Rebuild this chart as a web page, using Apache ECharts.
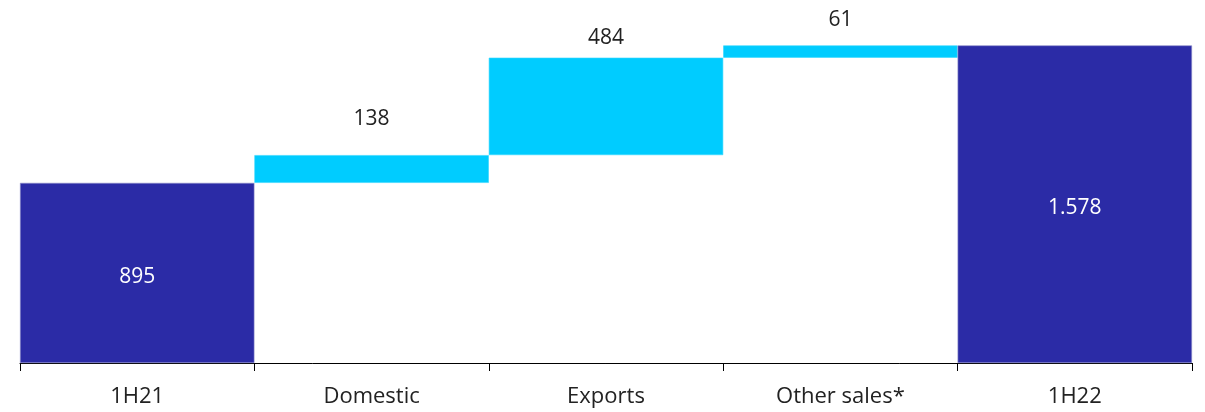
<!DOCTYPE html>
<html>
<head>
<meta charset="utf-8">
<script src="https://cdn.jsdelivr.net/npm/echarts@6/dist/echarts.min.js"></script>
<style>html,body{margin:0;padding:0;background:#fff}#c{width:1205px;height:412px}</style>
</head>
<body>
<div id="c"></div>
<script>
const categories = ["1H21", "Domestic", "Exports", "Other sales*", "1H22"];
const values = [895, 138, 484, 61, 1578];
const isTotal = [true, false, false, false, true];

const DARK = '#2B2BA6', CYAN = '#00CCFF';
const FONT = '"Open Sans", sans-serif';

// waterfall base computed from values
const base = [];
let run = 0;
values.forEach((v, i) => {
  if (isTotal[i]) { base.push(0); run = v; }
  else { base.push(run); run += v; }
});
const labelDist = [0, 26, 9, 15, 0];

function fmt(v) {
  return String(v).replace(/\B(?=(\d{3})+(?!\d))/g, '.');
}

const chart = echarts.init(document.getElementById('c'));
chart.setOption({
  animation: false,
  grid: { left: 20, right: 13, top: 41, bottom: 49 },
  xAxis: {
    type: 'category',
    data: categories,
    boundaryGap: true,
    axisLine: { lineStyle: { color: '#000', width: 1 } },
    axisTick: { show: true, length: 8, lineStyle: { color: '#000' } },
    axisLabel: { color: '#222', fontFamily: FONT, fontSize: 22, margin: 23 }
  },
  yAxis: { type: 'value', min: 0, max: 1600, show: false, splitLine: { show: false } },
  series: [
    {
      type: 'bar', stack: 'w', barWidth: '100%',
      itemStyle: { color: 'transparent' },
      data: base, silent: true
    },
    {
      type: 'bar', stack: 'w', barWidth: '100%',
      data: values.map((v, i) => ({
        value: v,
        itemStyle: { color: isTotal[i] ? DARK : CYAN, borderColor: isTotal[i] ? '#8C8CC8' : '#33D6FF', borderWidth: 0.6 },
        label: isTotal[i]
          ? { show: true, position: 'inside', offset: [0, 4], color: '#fff', formatter: fmt(v) }
          : { show: true, position: 'top', distance: labelDist[i], color: '#222', formatter: fmt(v) }
      })),
      label: { fontFamily: FONT, fontSize: 21 }
    }
  ]
});
</script>
</body>
</html>
